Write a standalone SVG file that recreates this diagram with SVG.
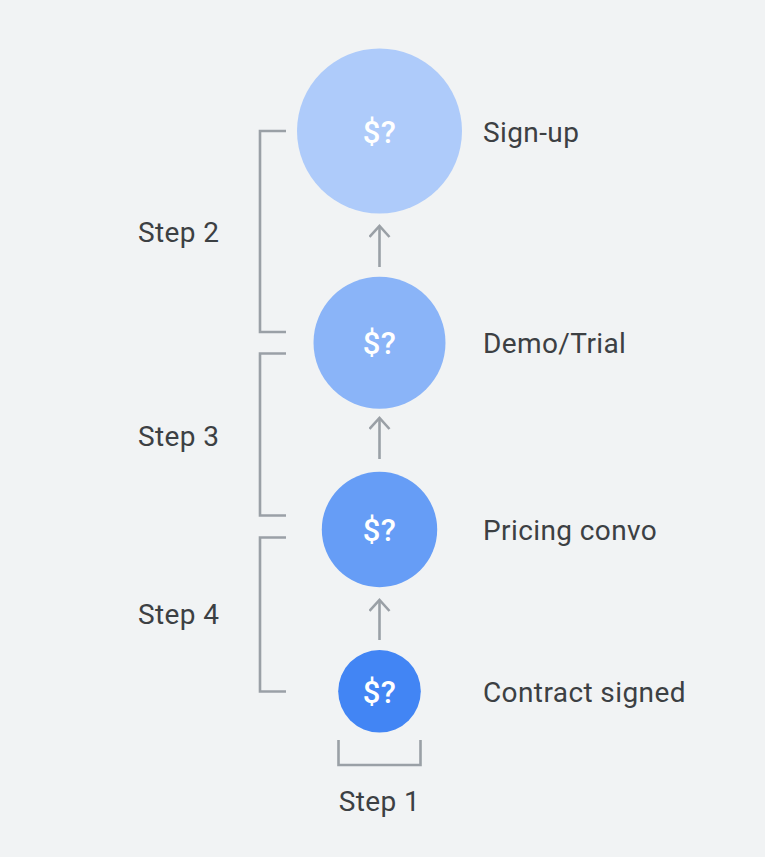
<svg xmlns="http://www.w3.org/2000/svg" width="765" height="857" viewBox="0 0 765 857">
<style>
.lbl{font-family:Roboto,"Liberation Sans",sans-serif;font-size:28px;letter-spacing:0.4px;fill:#3c4043}
.q{font-family:Roboto,"Liberation Sans",sans-serif;font-size:31px;font-weight:500;letter-spacing:0.5px;fill:#ffffff;text-anchor:middle}
.br{fill:none;stroke:#9aa0a6;stroke-width:2.6}
.ar{fill:none;stroke:#9aa0a6;stroke-width:2.6}
</style>
<defs>
<marker id="ah" viewBox="0 0 14 22" refX="12" refY="11" markerWidth="14" markerHeight="22" markerUnits="userSpaceOnUse" orient="auto">
<path d="M1,1 L12,11 L1,21" fill="none" stroke="#9aa0a6" stroke-width="2.6"/>
</marker>
</defs>
<rect width="765" height="857" fill="#f1f3f4"/>
<g id="connectors">
<line class="ar" x1="379.5" y1="267" x2="379.5" y2="226" marker-end="url(#ah)"/>
<line class="ar" x1="379.5" y1="459" x2="379.5" y2="418" marker-end="url(#ah)"/>
<line class="ar" x1="379.5" y1="640" x2="379.5" y2="600" marker-end="url(#ah)"/>
</g>
<g id="brackets">
<path class="br" d="M286,131 H260 V332 H286"/>
<path class="br" d="M286,353.5 H260 V515.5 H286"/>
<path class="br" d="M286,537.5 H260 V691.5 H286"/>
<path class="br" d="M338.5,740 V765 H420.5 V740"/>
</g>
<g id="node-signup">
<circle cx="379.5" cy="131" r="82.5" fill="#aecbfa"/>
<text class="q" x="379.5" y="142.5">$?</text>
<text class="lbl" x="483" y="141.5">Sign-up</text>
</g>
<g id="node-demo">
<circle cx="379.5" cy="342.7" r="66" fill="#8ab4f8"/>
<text class="q" x="379.5" y="354.2">$?</text>
<text class="lbl" x="483" y="353.2">Demo/Trial</text>
</g>
<g id="node-pricing">
<circle cx="379.5" cy="529.5" r="57.7" fill="#669df6"/>
<text class="q" x="379.5" y="541">$?</text>
<text class="lbl" x="483" y="540">Pricing convo</text>
</g>
<g id="node-contract">
<circle cx="379.5" cy="691.3" r="41.3" fill="#4285f4"/>
<text class="q" x="379.5" y="702.8">$?</text>
<text class="lbl" x="483" y="701.8">Contract signed</text>
</g>
<g id="steps">
<text class="lbl" x="138" y="241.5">Step 2</text>
<text class="lbl" x="138" y="445.5">Step 3</text>
<text class="lbl" x="138" y="623.5">Step 4</text>
<text class="lbl" x="379.5" y="810.5" text-anchor="middle">Step 1</text>
</g>
</svg>
